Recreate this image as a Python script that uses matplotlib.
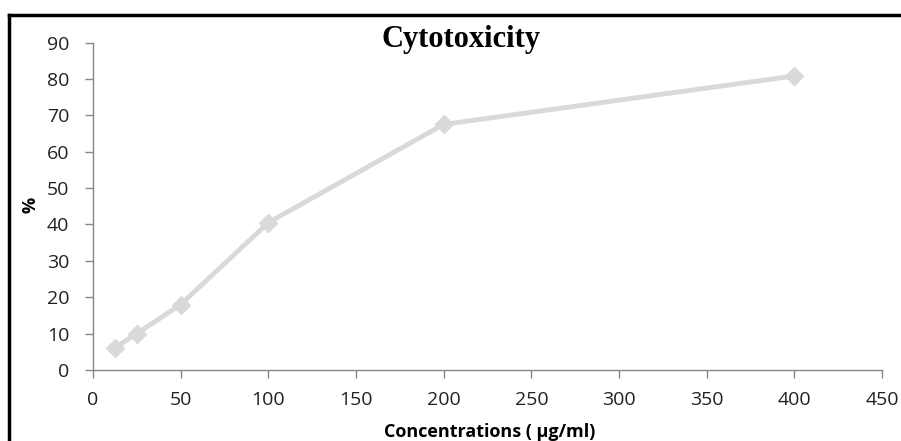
import matplotlib
matplotlib.use("Agg")
import matplotlib.pyplot as plt
from matplotlib.lines import Line2D

# data
concentrations = [12.5, 25, 50, 100, 200, 400]
cytotoxicity = [6.1, 10, 18, 40.5, 67.5, 80.8]
x_ticks = [0, 50, 100, 150, 200, 250, 300, 350, 400, 450]
y_ticks = [0, 10, 20, 30, 40, 50, 60, 70, 80, 90]

W, H = 901, 441
fig = plt.figure(figsize=(W / 100, H / 100), dpi=100)
ax = fig.add_axes([93 / W, 1 - 370 / H, (882 - 93) / W, (370 - 42.5) / H])

ax.plot(concentrations, cytotoxicity, color="#d9d9d9", lw=3.5,
        marker="D", markersize=9, markerfacecolor="#d9d9d9",
        markeredgecolor="#d9d9d9", solid_capstyle="round", clip_on=False)

ax.set_xlim(0, 450)
ax.set_ylim(0, 90)
ax.set_xticks(x_ticks)
ax.set_yticks(y_ticks)

for side in ["top", "right"]:
    ax.spines[side].set_visible(False)
for side in ["left", "bottom"]:
    ax.spines[side].set_color("#868686")
    ax.spines[side].set_linewidth(1.0)

ax.tick_params(axis="both", colors="#868686", labelcolor="#222222",
               labelsize=14, length=6, width=1.0, direction="out")
ax.tick_params(axis="x", pad=9)
ax.tick_params(axis="y", pad=11)
for lbl in ax.get_xticklabels() + ax.get_yticklabels():
    lbl.set_family("Open Sans")

fig.text(461 / W, 1 - 39 / H, "Cytotoxicity", ha="center", va="center",
         family="Liberation Serif", fontweight="bold", fontsize=22)
fig.text(30 / W, 1 - 205 / H, "%", ha="center", va="center", rotation=90,
         family="Open Sans", fontweight="bold", fontsize=13)
fig.text(490 / W, 1 - 432 / H, "Concentrations ( µg/ml)", ha="center",
         va="center", family="Open Sans", fontweight="bold", fontsize=13)

# black frame lines (top and left only, as in the source image)
fig.add_artist(Line2D([9 / W, 1], [1 - 15 / H, 1 - 15 / H],
                      transform=fig.transFigure, color="black", lw=2.5))
fig.add_artist(Line2D([9 / W, 9 / W], [0, 1 - 15 / H],
                      transform=fig.transFigure, color="black", lw=2.5))

fig.savefig("out.png", dpi=100)
